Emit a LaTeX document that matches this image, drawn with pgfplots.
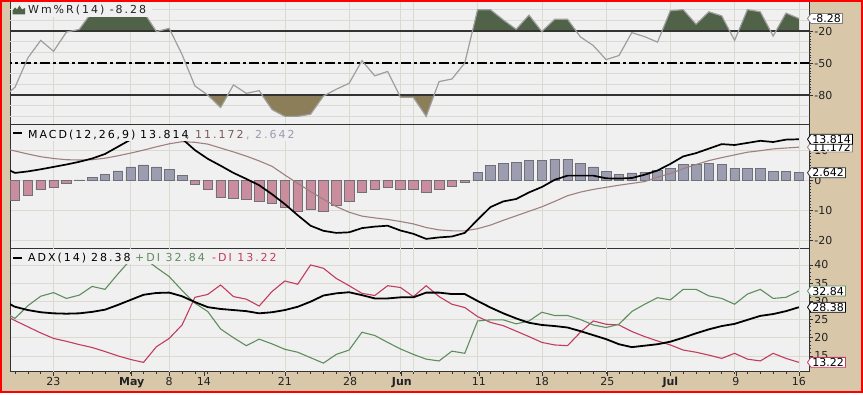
\documentclass[border=0pt]{standalone}
\usepackage{fontspec}
\setmainfont{DejaVu Sans}
\newfontfamily\legfont[LetterSpace=18]{DejaVu Sans}
\usepackage{pgfplots}
\usepackage{pgfplotstable}
\pgfplotsset{compat=1.18}
\usetikzlibrary{shapes.symbols}

\definecolor{tanbg}{HTML}{D9C7AA}
\definecolor{panelbg}{HTML}{F0F0F0}
\definecolor{gridc}{HTML}{DADAD0}
\definecolor{axc}{HTML}{333333}
\definecolor{txtc}{HTML}{222222}
\definecolor{wrline}{HTML}{9E9E9E}
\definecolor{wrgreen}{HTML}{506248}
\definecolor{wrbrown}{HTML}{8D7E5A}
\definecolor{histpos}{HTML}{9D9DB2}
\definecolor{histneg}{HTML}{C98D9E}
\definecolor{histedge}{HTML}{707078}
\definecolor{sigc}{HTML}{9E8080}
\definecolor{sigtxt}{HTML}{7A5A5A}
\definecolor{histtxt}{HTML}{9A9AB0}
\definecolor{plusdi}{HTML}{5E8E5E}
\definecolor{minusdi}{HTML}{C13C63}

\pgfplotstableread{
i wr
-1 -83
0 -72.7
1 -45.2
2 -28.8
3 -39
4 -21
5 -18.5
6 -2
7 0
8 0
9 -1
10 -2
11 -20.5
12 -17.5
13 -42
14 -71.5
15 -80
16 -91.7
17 -70.5
18 -78.4
19 -75.9
20 -93.6
21 -100
22 -100
23 -98
24 -81
25 -74.6
26 -69
27 -47.8
28 -62
29 -57.9
30 -82.2
31 -82.2
32 -100
33 -67.4
34 -65
35 -50
36 0
37 0
38 -9.6
39 -18.4
40 -5.1
41 -20.5
42 -9
43 -9
44 -25.5
45 -33.6
46 -46.8
47 -43
48 -21.5
49 -25.3
50 -30.4
51 -1
52 0
53 -13.6
54 -2
55 -5.8
56 -28.8
57 0
58 -2
59 -24.7
60 -3.2
61 -8.28
}\wrtab

\pgfplotstableread{
i macd sig hp hn
-1 4.6 10.9 nan nan
0 2.6 9.9 nan -6.6
1 3.1 8.9 nan -5.0
2 3.8 8.0 nan -3.0
3 4.6 7.4 nan -2.2
4 5.4 7.0 nan -1.0
5 6.3 6.9 0.3 nan
6 7.4 7.0 1.2 nan
7 8.9 7.5 2.0 nan
8 11.3 8.3 3.3 nan
9 13.7 9.2 4.6 nan
10 15.6 10.2 5.3 nan
11 16.4 11.3 4.6 nan
12 15.8 12.3 3.7 nan
13 14.0 13.0 1.7 nan
14 10.2 12.8 nan -1.3
15 7.3 12.2 nan -3.0
16 5.0 10.9 nan -5.4
17 2.6 9.6 nan -6.0
18 0.6 8.2 nan -6.3
19 -1.5 6.6 nan -6.7
20 -4.5 4.8 nan -7.4
21 -7.8 1.9 nan -8.8
22 -11.5 -0.9 nan -10.2
23 -15.0 -3.6 nan -9.4
24 -16.7 -6.2 nan -10.2
25 -17.4 -8.6 nan -8.3
26 -17.2 -10.5 nan -6.7
27 -15.8 -11.8 nan -3.9
28 -15.3 -12.4 nan -3.0
29 -15.0 -12.9 nan -2.2
30 -16.6 -13.6 nan -2.7
31 -17.7 -14.4 nan -3.0
32 -19.4 -15.6 nan -3.9
33 -18.9 -16.4 nan -3.0
34 -18.6 -16.7 nan -1.7
35 -17.4 -16.7 nan -0.6
36 -13.0 -16.0 2.9 nan
37 -8.8 -14.8 5.0 nan
38 -6.9 -13.2 5.9 nan
39 -6.1 -11.7 6.2 nan
40 -3.9 -10.2 6.8 nan
41 -2.1 -8.7 6.7 nan
42 0.3 -6.9 7.2 nan
43 1.7 -5.0 7.1 nan
44 1.7 -3.8 5.9 nan
45 1.7 -2.9 4.6 nan
46 0.8 -2.2 3.1 nan
47 0.7 -1.5 2.2 nan
48 0.9 -0.9 2.6 nan
49 2.0 -0.3 2.8 nan
50 3.4 1.2 3.4 nan
51 5.6 2.4 4.2 nan
52 8.1 4.0 5.5 nan
53 9.2 5.4 5.5 nan
54 10.7 6.7 5.9 nan
55 12.2 7.7 5.5 nan
56 11.9 8.6 4.2 nan
57 12.6 9.5 4.2 nan
58 13.3 10.0 4.2 nan
59 12.9 10.6 3.1 nan
60 13.7 10.9 3.1 nan
61 13.814 11.172 2.642 nan
}\macdtab

\pgfplotstableread{
i adx pdi mdi
-1 30.3 27.3 26.6
0 28.5 25.3 24.7
1 27.6 28.8 23.0
2 27.0 31.4 21.3
3 26.7 32.4 19.8
4 26.6 30.8 19.0
5 26.7 31.7 18.1
6 27.1 34.1 17.3
7 27.7 33.3 16.2
8 29.0 37.5 15.0
9 30.4 41.5 14.0
10 31.8 42.0 13.2
11 32.3 39.3 17.5
12 32.4 36.8 19.8
13 31.4 33.0 23.5
14 29.8 29.5 31.1
15 28.4 27.2 31.9
16 27.9 22.4 34.5
17 27.6 20.0 31.3
18 27.3 17.8 30.6
19 26.7 19.6 28.7
20 27.0 18.3 32.7
21 27.6 16.8 35.6
22 28.5 16.0 34.7
23 29.9 14.5 40.0
24 31.6 13.0 39.1
25 32.2 15.4 36.3
26 32.5 16.6 34.3
27 31.7 21.5 32.2
28 30.8 20.6 31.6
29 30.8 18.7 34.3
30 31.1 16.9 33.8
31 31.1 15.4 31.3
32 32.4 14.1 34.3
33 32.4 13.6 31.3
34 32.0 16.3 29.2
35 32.0 15.7 28.3
36 30.1 24.6 25.8
37 28.3 24.9 24.2
38 26.7 24.9 23.3
39 25.3 23.8 21.8
40 24.1 24.6 20.3
41 23.5 27.0 18.7
42 23.2 26.1 18.0
43 22.8 26.1 17.8
44 21.8 25.0 21.5
45 20.7 23.5 24.6
46 19.6 22.8 23.7
47 18.2 23.7 23.5
48 17.4 27.2 21.7
49 17.8 29.2 20.3
50 18.2 31.0 19.1
51 18.9 30.4 18.0
52 20.0 33.3 16.6
53 21.2 33.3 16.0
54 22.3 31.5 15.2
55 23.2 30.8 14.3
56 23.8 29.2 15.7
57 24.9 32.0 14.1
58 26.0 33.3 13.6
59 26.5 30.8 15.7
60 27.3 31.1 14.3
61 28.38 32.84 13.22
}\adxtab

\pgfplotsset{
  chartpanel/.style={
    scale only axis, width=799pt, xmin=-0.39, xmax=61.79,
    axis background/.style={fill=panelbg},
    axis line style={draw=axc, line width=1pt},
    tick align=outside,
    xtick pos=left, ytick pos=right, yticklabel pos=right,
    major tick length=4pt, minor tick length=2.2pt,
    tick style={draw=axc, line width=0.6pt},
    yticklabel style={font=\fontsize{11}{12}\selectfont, text=txtc, inner xsep=1.2pt},
    xmajorgrids, ymajorgrids,
    grid style={draw=gridc, line width=0.6pt},
  },
  toppanel/.style={
    xtick={3,9,12,21,26,30,31,36,41,46,51,56,61},
    xticklabel=\empty, xtick style={draw=none},
  },
  layerpanel/.style={
    scale only axis, width=799pt, xmin=-0.39, xmax=61.79,
    hide axis,
  },
}

\tikzset{
  vlab/.style={signal, signal to=west, signal pointer angle=110,
    fill=white, line width=0.8pt, inner xsep=1.5pt, inner ysep=0.8pt,
    anchor=west, font=\fontsize{11}{12}\selectfont, text=black},
  leg/.style={anchor=base west, inner sep=0pt, font=\legfont\fontsize{11}{13}\selectfont},
}

\begin{document}
\begin{tikzpicture}
\fill[white] (0pt,0pt) rectangle (863pt,394pt);
\fill[tanbg] (1pt,2pt) rectangle (862pt,393.5pt);

% ---------------- Williams %R : frame ----------------
\begin{axis}[chartpanel, toppanel, at={(10pt,269pt)}, anchor=south west, height=123pt,
  ymin=-108.1, ymax=7.2,
  ytick={-80,-50,-20}, yticklabels={-80,-50,-20},
  minor y tick num=11]
\addplot[gridc, line width=0.6pt] coordinates {(-1,-100) (62,-100)};
\addplot[gridc, line width=0.6pt] coordinates {(-1,-90) (62,-90)};
\addplot[gridc, line width=0.6pt] coordinates {(-1,-70) (62,-70)};
\addplot[gridc, line width=0.6pt] coordinates {(-1,-60) (62,-60)};
\addplot[gridc, line width=0.6pt] coordinates {(-1,-40) (62,-40)};
\addplot[gridc, line width=0.6pt] coordinates {(-1,-30) (62,-30)};
\addplot[gridc, line width=0.6pt] coordinates {(-1,-10) (62,-10)};
\addplot[gridc, line width=0.6pt] coordinates {(-1,0) (62,0)};
\end{axis}
% fill above -20 (values measured from the -20 line; the box clips below it)
\begin{axis}[layerpanel, at={(10pt,362.983pt)}, anchor=south west, height=29.017pt, ymin=0, ymax=27.2]
\addplot[fill=wrgreen, draw=none] table[x=i, y expr=\thisrow{wr}+20]{\wrtab} \closedcycle;
\end{axis}
% fill below -80 (values measured from the -80 line; the box clips above it)
\begin{axis}[layerpanel, at={(10pt,269pt)}, anchor=south west, height=29.977pt, ymin=-28.1, ymax=0]
\addplot[fill=wrbrown, draw=none] table[x=i, y expr=\thisrow{wr}+80]{\wrtab} \closedcycle;
\end{axis}
% lines
\begin{axis}[layerpanel, at={(10pt,269pt)}, anchor=south west, height=123pt, ymin=-108.1, ymax=7.2]
\addplot[axc, line width=1.2pt] coordinates {(-1,-20) (62,-20)};
\addplot[axc, line width=1.2pt] coordinates {(-1,-80) (62,-80)};
\addplot[black, line width=1.2pt, dash pattern=on 10pt off 3pt on 3pt off 3pt] coordinates {(-1,-50) (62,-50)};
\addplot[wrline, line width=1.2pt] table[x=i,y=wr]{\wrtab};
\coordinate (wrlab) at (axis cs:61.79,-8.28);
\end{axis}

% ---------------- MACD ----------------
\begin{axis}[chartpanel, toppanel, at={(10pt,145.7pt)}, anchor=south west, height=123.3pt,
  ymin=-22.53, ymax=18.57,
  ytick={-20,-10,0,10}, yticklabels={-20,-10,0,10},
  minor y tick num=9]
\addplot[ybar, bar width=9.5pt, fill=histneg, draw=histedge, line width=0.6pt] table[x=i,y=hn]{\macdtab};
\addplot[ybar, bar width=9.5pt, fill=histpos, draw=histedge, line width=0.6pt] table[x=i,y=hp]{\macdtab};
\addplot[sigc, line width=1.1pt] table[x=i,y=sig]{\macdtab};
\addplot[black, line width=1.7pt] table[x=i,y=macd]{\macdtab};
\coordinate (mlab) at (axis cs:61.79,13.814);
\coordinate (slab) at (axis cs:61.79,11.172);
\coordinate (hlab) at (axis cs:61.79,2.642);
\end{axis}

% ---------------- ADX ----------------
\begin{axis}[chartpanel, at={(10pt,22pt)}, anchor=south west, height=123.7pt,
  ymin=10.56, ymax=44.59,
  ytick={15,20,25,30,35,40}, yticklabels={15,20,25,30,35,40},
  minor y tick num=4,
  xtick={2.98,9.08,12,14.7,21,26.07,30.1,36.1,41,46.1,51,56.1,61},
  xticklabels={23,\textbf{May},8,14,21,28,\textbf{Jun},11,18,25,\textbf{Jul},9,16},
  xticklabel style={font=\fontsize{11}{12}\selectfont, text=txtc, yshift=2.5pt},
  xmajorgrids=false,
  minor xtick={0,1,...,61}]
\addplot[gridc, line width=0.6pt] coordinates {(3,0) (3,50)};
\addplot[gridc, line width=0.6pt] coordinates {(9,0) (9,50)};
\addplot[gridc, line width=0.6pt] coordinates {(12,0) (12,50)};
\addplot[gridc, line width=0.6pt] coordinates {(21,0) (21,50)};
\addplot[gridc, line width=0.6pt] coordinates {(26,0) (26,50)};
\addplot[gridc, line width=0.6pt] coordinates {(30,0) (30,50)};
\addplot[gridc, line width=0.6pt] coordinates {(31,0) (31,50)};
\addplot[gridc, line width=0.6pt] coordinates {(36,0) (36,50)};
\addplot[gridc, line width=0.6pt] coordinates {(41,0) (41,50)};
\addplot[gridc, line width=0.6pt] coordinates {(46,0) (46,50)};
\addplot[gridc, line width=0.6pt] coordinates {(51,0) (51,50)};
\addplot[gridc, line width=0.6pt] coordinates {(56,0) (56,50)};
\addplot[gridc, line width=0.6pt] coordinates {(61,0) (61,50)};
\addplot[minusdi, line width=1.1pt] table[x=i,y=mdi]{\adxtab};
\addplot[plusdi, line width=1.1pt] table[x=i,y=pdi]{\adxtab};
\addplot[black, line width=1.8pt] table[x=i,y=adx]{\adxtab};
\coordinate (alab) at (axis cs:61.79,28.38);
\coordinate (plab) at (axis cs:61.79,32.84);
\coordinate (nlab) at (axis cs:61.79,13.22);
\end{axis}

% legends (background strips hide the lines behind the text)
\fill[panelbg] (10.5pt,377pt) rectangle (152pt,391.5pt);
\fill[wrgreen] (12.5pt,379.5pt) -- (12.5pt,383.5pt) -- (15pt,386.5pt) -- (17pt,384.5pt) -- (19.5pt,388.5pt) -- (22pt,384.5pt) -- (25pt,386pt) -- (25pt,379.5pt) -- cycle;
\node[leg, text=txtc] at (28pt,380pt) {Wm\%R(14) -8.28};

\fill[panelbg] (10.5pt,252.5pt) rectangle (299pt,267.5pt);
\fill[black] (13pt,260pt) rectangle (22pt,262pt);
\node[leg, text=black] at (28pt,255.7pt) {MACD(12,26,9)};
\node[leg, text=black] at (140pt,255.7pt) {13.814};
\node[leg, text=sigtxt] at (186pt,255.7pt) {, 11.172};
\node[leg, text=histtxt] at (246pt,255.7pt) {, 2.642};

\fill[panelbg] (10.5pt,130pt) rectangle (281pt,145pt);
\fill[black] (13pt,135pt) rectangle (22pt,137pt);
\node[leg, text=black] at (28pt,132.3pt) {ADX(14)};
\node[leg, text=black] at (91pt,132.3pt) {28.38};
\node[leg, text=plusdi] at (135pt,132.3pt) {+DI 32.84};
\node[leg, text=minusdi] at (212pt,132.3pt) {-DI 13.22};

% value labels
\node[vlab, draw=gray] at ([xshift=-2pt]wrlab) {-8.28};
\node[vlab, draw=sigc] at ([xshift=-2pt]slab) {11.172};
\node[vlab, draw=black] at ([xshift=-2pt]mlab) {13.814};
\node[vlab, draw=axc] at ([xshift=-2pt]hlab) {2.642};
\node[vlab, draw=plusdi] at ([xshift=-2pt]plab) {32.84};
\node[vlab, draw=black] at ([xshift=-2pt]alab) {28.38};
\node[vlab, draw=minusdi] at ([xshift=-2pt]nlab) {13.22};

\draw[red, line width=1.6pt] (1pt,2.3pt) rectangle (862pt,393.2pt);
\end{tikzpicture}
\end{document}
